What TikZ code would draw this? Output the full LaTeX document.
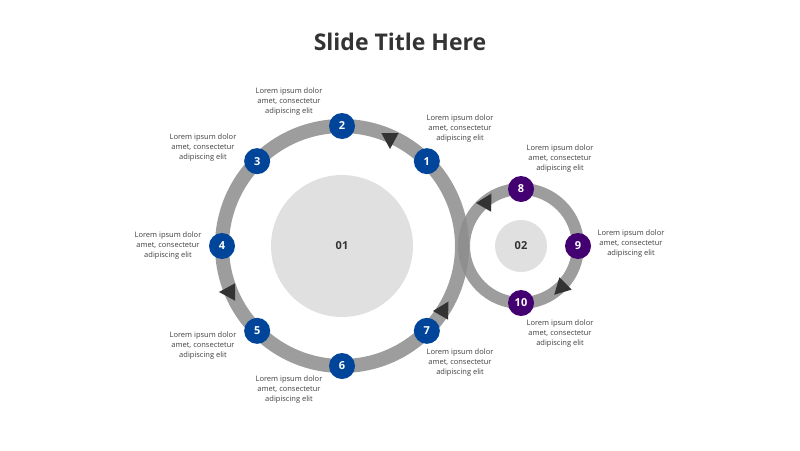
\documentclass[tikz,border=0pt]{standalone}
\usepackage{fontspec}
\setmainfont{Open Sans}
\usetikzlibrary{calc}
\begin{document}
\begin{tikzpicture}[x=1pt,y=-1pt,
  ring/.style={draw=black!45,opacity=0.85},
  num/.style={circle,minimum size=26pt,inner sep=0pt,text=white,font=\bfseries\fontsize{11}{11}\selectfont},
  bnum/.style={num,fill=blue!55!cyan!60!black},
  pnum/.style={num,fill=violet!75!blue!70!black},
  lbl/.style={align=center,font=\fontsize{7.5}{10}\selectfont,text=black!75},
  tri/.style={fill=black!80}]
\useasboundingbox (0,0) rectangle (800,450);
\node (title) at (400,42) {\bfseries\fontsize{23}{26}\selectfont\color{black!80}Slide Title Here};
\fill[black!12] (342,246) circle (71);
\fill[black!12] (521,246) circle (26);
\node (c1) at (342,246) {\bfseries\fontsize{11}{11}\selectfont\color{black!80}01};
\node (c2) at (521,246) {\bfseries\fontsize{11}{11}\selectfont\color{black!80}02};
\draw[ring,line width=14pt] (342,246) circle (120);
\draw[ring,line width=12pt] (521,246) circle (57);
% arrows
\foreach \x/\y/\a in {390/138/90, 230/292/180, 443/311/-60, 486/203/-60, 562/287/135}
  \fill[tri] ($(\x,\y)+(\a:11)$) -- ($(\x,\y)+(\a+120:10)$) -- ($(\x,\y)+(\a-120:10)$) -- cycle;
\foreach \n/\a in {1/45,2/90,3/135,4/180,5/225,6/270,7/315}
  \node[bnum] (n\n) at ($(342,246)+(\a:120 and -120)$) {\n};
\node[pnum] (n8) at (521,189) {8};
\node[pnum] (n9) at (578,246) {9};
\node[pnum] (n10) at (521,303) {10};
\def\L{Lorem ipsum dolor\\amet, consectetur\\adipiscing elit}
\node[lbl] (l1) at (460,129) {\L};
\node[lbl] (l2) at (289,102) {\L};
\node[lbl] (l3) at (203,148) {\L};
\node[lbl] (l4) at (168,246) {\L};
\node[lbl] (l5) at (203,346) {\L};
\node[lbl] (l6) at (289,390) {\L};
\node[lbl] (l7) at (460,363) {\L};
\node[lbl] (l8) at (560,159) {\L};
\node[lbl] (l9) at (631,244) {\L};
\node[lbl] (l10) at (560,334) {\L};
\end{tikzpicture}
\end{document}
